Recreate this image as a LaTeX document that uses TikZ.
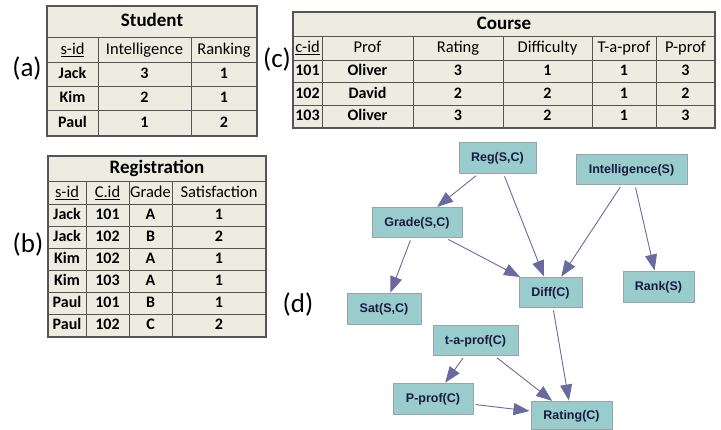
\documentclass[tikz,border=0pt]{standalone}
\usepackage{fontspec}
\setmainfont{Carlito}
\newfontfamily\gfont{Liberation Sans}
\usetikzlibrary{arrows.meta}
\definecolor{tbl}{HTML}{EEECE1}
\definecolor{gridc}{HTML}{555555}
\definecolor{nodefill}{HTML}{99CCCC}
\definecolor{nodeline}{HTML}{9AA4A4}
\definecolor{nodetext}{HTML}{1A1A40}
\definecolor{edgec}{HTML}{6A6A9E}
\begin{document}
\begin{tikzpicture}[x=1pt,y=-1pt,
  ttl/.style={font=\bfseries\fontsize{19}{22}\selectfont, inner sep=0pt, text height=13pt, text depth=4pt},
  hd/.style={font=\fontsize{16.5}{19}\selectfont, inner sep=0pt, text height=11.5pt, text depth=3.5pt},
  cell/.style={font=\bfseries\fontsize{16}{19}\selectfont, inner sep=0pt, text height=11.5pt, text depth=3.5pt},
  lbl/.style={font=\fontsize{27}{30}\selectfont, inner sep=0pt},
  gridline/.style={draw=gridc, line width=1pt},
  outer/.style={draw=gridc, line width=1.6pt},
  gnode/.style={draw=nodeline, fill=nodefill, line width=1pt, inner sep=0pt,
     font=\gfont\bfseries\fontsize{12.5}{14}\selectfont, text=nodetext, minimum height=30pt},
  edge/.style={draw=edgec, line width=0.9pt, shorten <=2pt, shorten >=1pt,
     -{Triangle[length=16pt,width=12pt]}}
]
\fill[white] (0,0) rectangle (721,430);
\useasboundingbox (0,0) rectangle (721,430);

% ---------------- Student table ----------------
\fill[tbl] (47,6) rectangle (257,136);
\foreach \y in {38,63,87,111} \draw[gridline] (47,\y) -- (257,\y);
\foreach \x in {98,191} \draw[gridline] (\x,38) -- (\x,136);
\draw[outer] (47,6) rectangle (257,136);
\node[ttl] (stitle) at (152,22) {Student};
\node[hd] (sh1) at (72.5,50.5) {\underline{s-id}};
\node[hd] (sh2) at (144.5,50.5) {Intelligence};
\node[hd] (sh3) at (224,50.5) {Ranking};
\foreach \r/\y/\a/\b/\c in {1/75/Jack/3/1, 2/99/Kim/2/1, 3/123.5/Paul/1/2}{
  \node[cell] (s\r a) at (72.5,\y) {\a};
  \node[cell] (s\r b) at (144.5,\y) {\b};
  \node[cell] (s\r c) at (224,\y) {\c};
}
\node[lbl] (la) at (27,69) {(a)};

% ---------------- Course table ----------------
\fill[tbl] (293,12) rectangle (715,128);
\foreach \y in {37,61,83,106} \draw[gridline] (293,\y) -- (715,\y);
\foreach \x in {322,413,503,592,656} \draw[gridline] (\x,37) -- (\x,128);
\draw[outer] (293,12) rectangle (715,128);
\node[ttl] (ctitle) at (504,25) {Course};
\node[hd] (ch1) at (307.5,49) {\underline{c-id}};
\node[hd] (ch2) at (367.5,49) {Prof};
\node[hd] (ch3) at (458,49) {Rating};
\node[hd] (ch4) at (547.5,49) {Difficulty};
\node[hd] (ch5) at (624,49) {T-a-prof};
\node[hd] (ch6) at (685.5,49) {P-prof};
\foreach \r/\y/\a/\b/\c/\d/\e/\f in {1/72/101/Oliver/3/1/1/3, 2/94.5/102/David/2/2/1/2, 3/117/103/Oliver/3/2/1/3}{
  \node[cell] (c\r a) at (307.5,\y) {\a};
  \node[cell] (c\r b) at (367.5,\y) {\b};
  \node[cell] (c\r c) at (458,\y) {\c};
  \node[cell] (c\r d) at (547.5,\y) {\d};
  \node[cell] (c\r e) at (624,\y) {\e};
  \node[cell] (c\r f) at (685.5,\y) {\f};
}
\node[lbl] (lc) at (277,60) {(c)};

% ---------------- Registration table ----------------
\fill[tbl] (48,156) rectangle (266,337);
\foreach \y in {182,205,227,249,271,293,315} \draw[gridline] (48,\y) -- (266,\y);
\foreach \x in {86,129,172} \draw[gridline] (\x,182) -- (\x,337);
\draw[outer] (48,156) rectangle (266,337);
\node[ttl] (rtitle) at (157,169) {Registration};
\node[hd] (rh1) at (67,193.5) {\underline{s-id}};
\node[hd] (rh2) at (107.5,193.5) {\underline{C.id}};
\node[hd] (rh3) at (150.5,193.5) {Grade};
\node[hd] (rh4) at (219,193.5) {Satisfaction};
\foreach \r/\y/\a/\b/\c/\d in {1/216/Jack/101/A/1, 2/238/Jack/102/B/2, 3/260/Kim/102/A/1, 4/282/Kim/103/A/1, 5/304/Paul/101/B/1, 6/326/Paul/102/C/2}{
  \node[cell] (r\r a) at (67,\y) {\a};
  \node[cell] (r\r b) at (107.5,\y) {\b};
  \node[cell] (r\r c) at (150.5,\y) {\c};
  \node[cell] (r\r d) at (219,\y) {\d};
}
\node[lbl] (lb) at (28,245) {(b)};

% ---------------- Graph ----------------
\node[lbl] (ld) at (298,304) {(d)};
\node[gnode, minimum width=77pt, minimum height=31pt] (reg) at (497.5,158.5) {Reg(S,C)};
\node[gnode, minimum width=111pt] (intel) at (631.5,170) {Intelligence(S)};
\node[gnode, minimum width=90pt] (grade) at (417,223) {Grade(S,C)};
\node[gnode, minimum width=63pt] (diff) at (550.5,293) {Diff(C)};
\node[gnode, minimum width=71pt, minimum height=31pt] (rank) at (658.5,287.5) {Rank(S)};
\node[gnode, minimum width=74pt, minimum height=31pt] (sat) at (384,309.5) {Sat(S,C)};
\node[gnode, minimum width=85pt] (tap) at (475.5,341) {t-a-prof(C)};
\node[gnode, minimum width=80pt, minimum height=31pt] (pprof) at (433,399.5) {P-prof(C)};
\node[gnode, minimum width=81pt, minimum height=28pt] (rating) at (571.5,416) {Rating(C)};

\draw[edge] (reg) -- (grade);
\draw[edge] (reg) -- (diff);
\draw[edge] (intel) -- (diff);
\draw[edge] (intel) -- (rank);
\draw[edge] (grade) -- (sat);
\draw[edge] (grade) -- (diff);
\draw[edge] (diff) -- (rating);
\draw[edge] (tap) -- (pprof);
\draw[edge] (tap) -- (rating);
\draw[edge] (pprof) -- (rating);
\end{tikzpicture}
\end{document}
